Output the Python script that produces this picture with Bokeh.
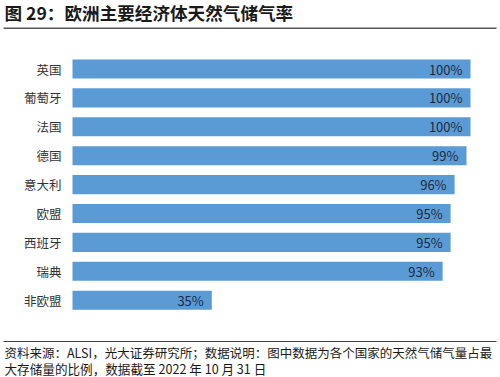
from bokeh.plotting import figure
from bokeh.models import ColumnDataSource, Range1d, Label, BoxAnnotation
from bokeh.core.properties import value
from bokeh.embed import file_html
from bokeh.resources import INLINE

# ---- data ----
categories = ["英国", "葡萄牙", "法国", "德国", "意大利", "欧盟", "西班牙", "瑞典", "非欧盟"]
storage_rate = [100, 100, 100, 99, 96, 95, 95, 93, 35]
rate_labels = [f"{v}%" for v in storage_rate]

title_text = "图 29：欧洲主要经济体天然气储气率"
note_line1 = "资料来源：ALSI，光大证券研究所；数据说明：图中数据为各个国家的天然气储气量占最"
note_line2 = "大存储量的比例，数据截至 2022 年 10 月 31 日"

FONT = "Noto Sans CJK SC"
BAR_COLOR = "#5b9bd5"

W, H = 500, 377

# row index of each category (0 = top row)
rows = list(range(len(categories)))
source = ColumnDataSource(dict(cat=categories, row=rows, rate=storage_rate, lab=rate_labels))

# scales: 3.98 px per percent, bar area starts at x=72 px; 28.9 px per row, first row centred at y=68.5 px
PX_PER_PCT = 3.98
X0 = 72
PX_PER_ROW = 28.9
Y0 = 68.5
x_start = -X0 / PX_PER_PCT
x_end = x_start + W / PX_PER_PCT
y_top = -Y0 / PX_PER_ROW
y_bottom = y_top + H / PX_PER_ROW

p = figure(
    width=W, height=H,
    x_range=Range1d(x_start, x_end),
    y_range=Range1d(y_bottom, y_top),
    output_backend="svg", toolbar_location=None,
    min_border=0, min_border_left=0, min_border_right=0,
    min_border_top=0, min_border_bottom=0,
    x_axis_location=None, y_axis_location=None,
)
p.outline_line_color = None
p.grid.visible = False
p.background_fill_color = "white"
p.border_fill_color = "white"

p.hbar(y="row", left=0, right="rate", height=0.66, source=source,
       fill_color=BAR_COLOR, line_color=None)

# category labels (y-axis labels)
p.text(x=0, y="row", text="cat", source=source, x_offset=-11,
       text_align="right", text_baseline="middle",
       text_font=value(FONT), text_font_size="12.5px", text_color="#333333")

# value labels
p.text(x="rate", y="row", text="lab", source=source, x_offset=-8,
       text_align="right", text_baseline="middle",
       text_font=value(FONT), text_font_size="13px", text_color="#1c2a40")

# header
p.add_layout(Label(x=4, y=11.5, x_units="canvas", y_units="canvas", text=title_text,
                   text_font=FONT, text_font_size="17.6px", text_font_style="bold",
                   text_color="#1a1a1a", text_baseline="middle", text_align="left"))
p.add_layout(BoxAnnotation(left=3, right=496, top=27, bottom=28.5,
                           left_units="canvas", right_units="canvas",
                           top_units="canvas", bottom_units="canvas",
                           fill_color="#595959", fill_alpha=1, line_color=None))

# footer
p.add_layout(BoxAnnotation(left=3, right=496, top=340.5, bottom=341.5,
                           left_units="canvas", right_units="canvas",
                           top_units="canvas", bottom_units="canvas",
                           fill_color="#404040", fill_alpha=1, line_color=None))
p.add_layout(Label(x=4, y=351.5, x_units="canvas", y_units="canvas", text=note_line1,
                   text_font=FONT, text_font_size="12.5px", text_color="#1a1a1a",
                   text_baseline="middle", text_align="left"))
p.add_layout(Label(x=4, y=368, x_units="canvas", y_units="canvas", text=note_line2,
                   text_font=FONT, text_font_size="12.6px", text_color="#1a1a1a",
                   text_baseline="middle", text_align="left"))

open("out.html", "w").write(file_html(p, INLINE))
